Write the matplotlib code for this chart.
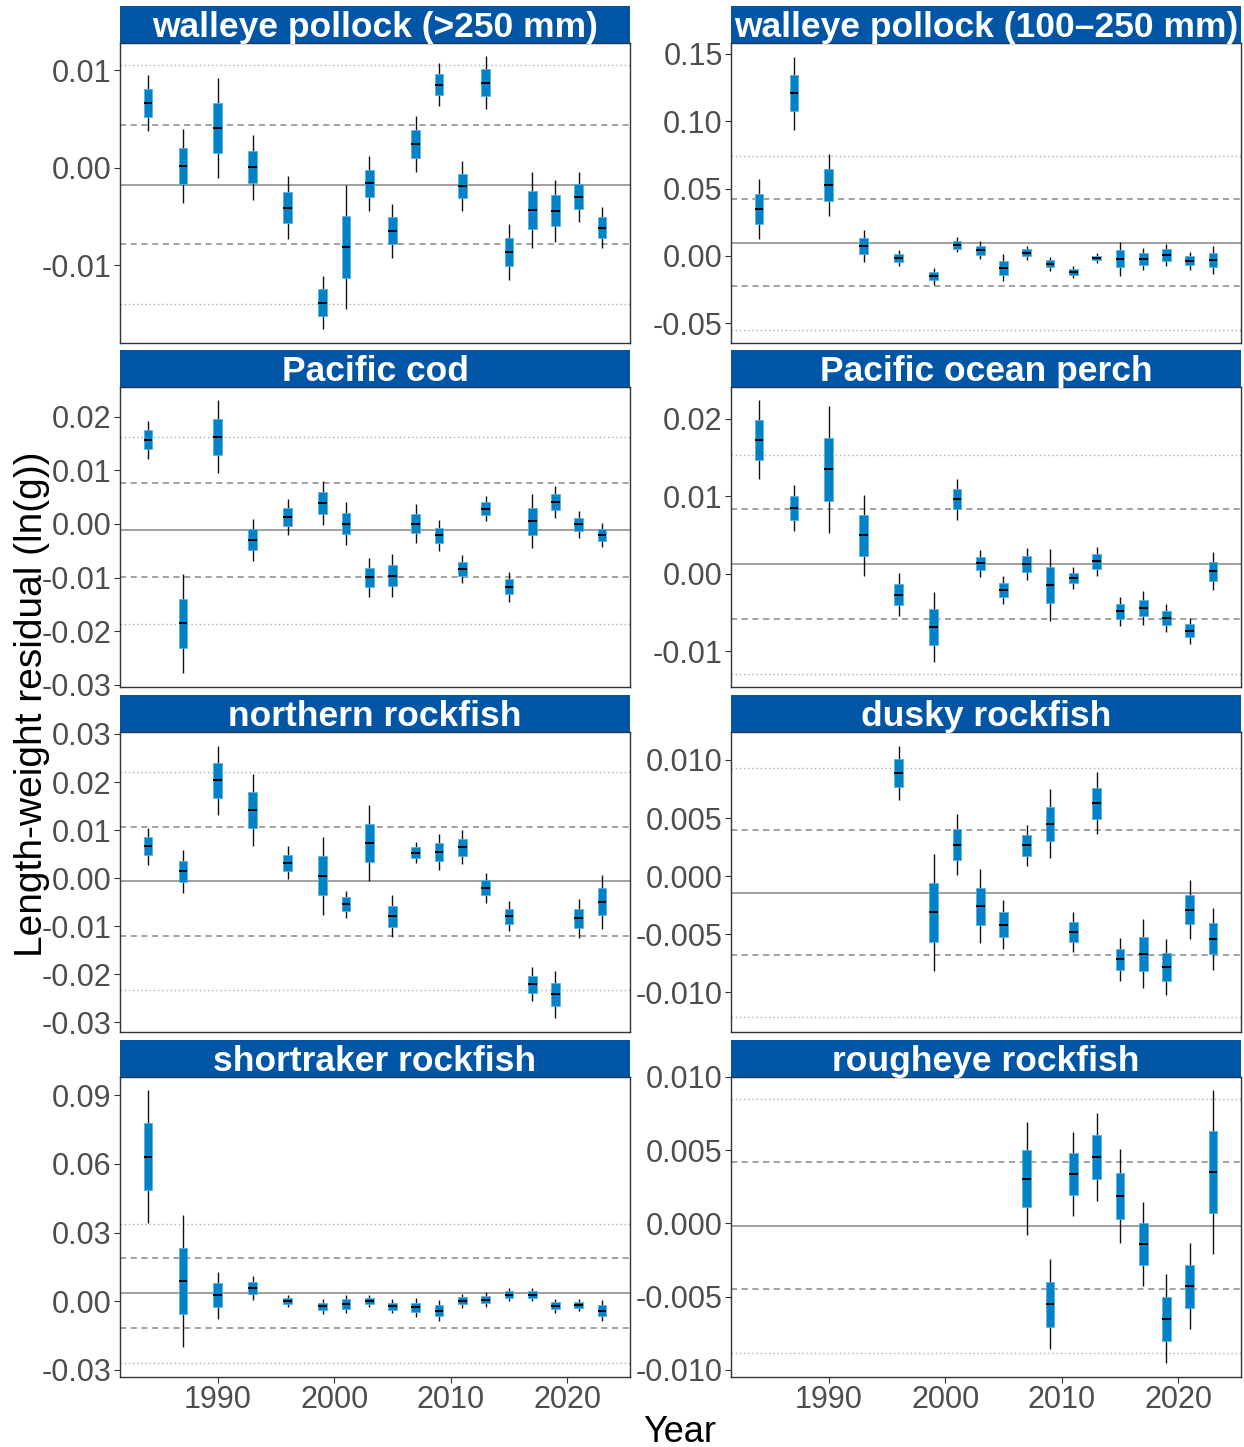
import matplotlib
matplotlib.use('Agg')
import matplotlib.pyplot as plt
import numpy as np

plt.rcParams['font.family'] = ['Liberation Sans', 'DejaVu Sans']

# survey years
years_all = [1984, 1987, 1990, 1993, 1996, 1999, 2001, 2003, 2005,
             2007, 2009, 2011, 2013, 2015, 2017, 2019, 2021, 2023]
years_dusky = years_all[4:]
years_rougheye = years_all[9:]

# medians and interval half-widths (box = +/- 1, whisker = +/- 2)
pollock_big_med = [0.00663, 0.00017, 0.00405, 0.00003, -0.00409, -0.01385, -0.00814, -0.00162, -0.00646,
                   0.00241, 0.00852, -0.00189, 0.00873, -0.00869, -0.00433, -0.00443, -0.00299, -0.00615]
pollock_big_se = [0.00143, 0.00189, 0.00256, 0.00165, 0.00160, 0.00137, 0.00316, 0.00139, 0.00139,
                  0.00143, 0.00110, 0.00127, 0.00137, 0.00144, 0.00194, 0.00160, 0.00127, 0.00105]

pollock_small_med = [0.0347, 0.1208, 0.0527, 0.0074, -0.0015, -0.0151, 0.0082, 0.0042, -0.0087,
                     0.0022, -0.0057, -0.0119, -0.0015, -0.0022, -0.0022, 0.0007, -0.0037, -0.0030]
pollock_small_se = [0.0111, 0.0135, 0.0116, 0.0059, 0.0031, 0.0031, 0.0028, 0.0033, 0.0051,
                    0.0026, 0.0026, 0.0024, 0.0017, 0.0063, 0.0042, 0.0042, 0.0033, 0.0053]

cod_med = [0.01565, -0.01851, 0.01621, -0.00298, 0.00130, 0.00391, 0.00006, -0.00994, -0.00963,
           0.00006, -0.00217, -0.00839, 0.00280, -0.01168, 0.00050, 0.00410, -0.00012, -0.00199]
cod_se = [0.00177, 0.00460, 0.00339, 0.00193, 0.00168, 0.00202, 0.00199, 0.00180, 0.00199,
          0.00180, 0.00149, 0.00127, 0.00118, 0.00140, 0.00252, 0.00152, 0.00130, 0.00112]

pop_med = [0.01728, 0.00849, 0.01349, 0.00496, -0.00267, -0.00685, 0.00961, 0.00134, -0.00207,
           0.00121, -0.00147, -0.00052, 0.00159, -0.00483, -0.00440, -0.00569, -0.00733, 0.00034]
pop_se = [0.00254, 0.00149, 0.00409, 0.00263, 0.00138, 0.00228, 0.00131, 0.00088, 0.00088,
          0.00103, 0.00231, 0.00069, 0.00095, 0.00095, 0.00108, 0.00088, 0.00084, 0.00123]

northern_med = [0.00660, 0.00139, 0.02035, 0.01424, 0.00319, 0.00049, -0.00542, 0.00729, -0.00792,
                0.00528, 0.00549, 0.00639, -0.00201, -0.00792, -0.02208, -0.02417, -0.00833, -0.00493]
northern_se = [0.00188, 0.00219, 0.00358, 0.00375, 0.00170, 0.00403, 0.00142, 0.00399, 0.00219,
               0.00111, 0.00188, 0.00177, 0.00156, 0.00156, 0.00177, 0.00243, 0.00201, 0.00278]

dusky_med = [0.00888, -0.00312, 0.00272, -0.00258, -0.00418, 0.00264, 0.00450,
             -0.00481, 0.00628, -0.00716, -0.00668, -0.00779, -0.00287, -0.00539]
dusky_se = [0.00117, 0.00251, 0.00130, 0.00158, 0.00106, 0.00090, 0.00148,
            0.00085, 0.00133, 0.00093, 0.00148, 0.00120, 0.00125, 0.00133]

shortraker_med = [0.0632, 0.00875, 0.00262, 0.00583, 0.00029, -0.00219, -0.00117, 0.00029, -0.00219,
                  -0.00262, -0.00408, 0.00015, 0.00073, 0.00292, 0.00292, -0.00204, -0.00160, -0.00408]
shortraker_se = [0.0146, 0.0144, 0.00518, 0.00270, 0.00131, 0.00160, 0.00204, 0.00131, 0.00153,
                 0.00204, 0.00226, 0.00153, 0.00168, 0.00146, 0.00139, 0.00153, 0.00131, 0.00226]

rougheye_med = [0.00306, -0.00553, 0.00336, 0.00454, 0.00187, -0.00139, -0.00651, -0.00429, 0.00352]
rougheye_se = [0.00192, 0.00154, 0.00144, 0.00151, 0.00159, 0.00143, 0.00151, 0.00147, 0.00280]

# reference lines: mean and standard deviation per species
ref_mean = [-0.00175, 0.0098, -0.00118, 0.00125, -0.00063, -0.00143, 0.0035, -0.00016]
ref_sd = [0.00613, 0.0323, 0.0087, 0.00707, 0.01131, 0.00536, 0.0152, 0.00434]

panels = [
    ('walleye pollock (>250 mm)', years_all, pollock_big_med, pollock_big_se),
    ('walleye pollock (100\u2013250 mm)', years_all, pollock_small_med, pollock_small_se),
    ('Pacific cod', years_all, cod_med, cod_se),
    ('Pacific ocean perch', years_all, pop_med, pop_se),
    ('northern rockfish', years_all, northern_med, northern_se),
    ('dusky rockfish', years_dusky, dusky_med, dusky_se),
    ('shortraker rockfish', years_all, shortraker_med, shortraker_se),
    ('rougheye rockfish', years_rougheye, rougheye_med, rougheye_se),
]

ylims = [(-0.0180, 0.0128), (-0.0646, 0.158), (-0.0304, 0.0255), (-0.0146, 0.0241),
         (-0.0320, 0.0304), (-0.0134, 0.0124), (-0.0331, 0.0980), (-0.0105, 0.0100)]
yticks = [[-0.01, 0.0, 0.01], [-0.05, 0.0, 0.05, 0.10, 0.15],
          [-0.03, -0.02, -0.01, 0.0, 0.01, 0.02], [-0.01, 0.0, 0.01, 0.02],
          [-0.03, -0.02, -0.01, 0.0, 0.01, 0.02, 0.03], [-0.010, -0.005, 0.0, 0.005, 0.010],
          [-0.03, 0.0, 0.03, 0.06, 0.09], [-0.010, -0.005, 0.0, 0.005, 0.010]]
yfmt = ['%.2f', '%.2f', '%.2f', '%.2f', '%.2f', '%.3f', '%.2f', '%.3f']

W, H = 1244, 1447
fig = plt.figure(figsize=(W / 100, H / 100), dpi=100)
fig.patch.set_facecolor('white')

col_x = [120, 731]
row_top = [43, 387, 732, 1077]
ax_w, ax_h, strip_h = 510, 300, 37

BOX = '#0082C8'
STRIP = '#0055A4'
box_w = 0.75

for i, (title, yrs, med, se) in enumerate(panels):
    r, c = divmod(i, 2)
    x0, top = col_x[c], row_top[r]
    ax = fig.add_axes([x0 / W, 1 - (top + ax_h) / H, ax_w / W, ax_h / H])
    sax = fig.add_axes([x0 / W, 1 - top / H, ax_w / W, strip_h / H])
    sax.set_facecolor(STRIP)
    sax.set_xticks([])
    sax.set_yticks([])
    for s in sax.spines.values():
        s.set_visible(False)
    sax.text(0.5, 0.42, title, ha='center', va='center', color='white',
             fontsize=25.5, fontweight='bold', transform=sax.transAxes, clip_on=False)

    yrs = np.array(yrs, dtype=float)
    med = np.array(med)
    se = np.array(se)

    m, sd = ref_mean[i], ref_sd[i]
    ax.axhline(m, color='#999999', lw=1.3, zorder=1)
    for k in (-1, 1):
        ax.axhline(m + k * sd, color='#888888', lw=1.1, ls=(0, (4, 3)), zorder=1)
        ax.axhline(m + 2 * k * sd, color='#aaaaaa', lw=1.0, ls=(0, (1, 2)), zorder=1)

    ax.vlines(yrs, med - 2 * se, med + 2 * se, color='#111111', lw=1.0, zorder=2)
    ax.bar(yrs, 2 * se, bottom=med - se, width=box_w, color=BOX,
           edgecolor='#5DB0E0', linewidth=0.6, zorder=3)
    ax.hlines(med, yrs - box_w / 2, yrs + box_w / 2, color='black', lw=1.4, zorder=4)

    ax.set_xlim(1981.6, 2025.4)
    ax.set_ylim(*ylims[i])
    ax.set_yticks(yticks[i])
    ax.set_yticklabels([yfmt[i] % (0.0 if abs(v) < 1e-12 else v) for v in yticks[i]])
    ax.set_xticks([1990, 2000, 2010, 2020])
    if r < 3:
        ax.tick_params(axis='x', bottom=False, labelbottom=False)
    ax.tick_params(axis='both', length=4, width=0.8, color='#333333',
                   labelsize=22, labelcolor='#4D4D4D', pad=2)
    for s in ax.spines.values():
        s.set_color('#333333')
        s.set_linewidth(1.0)

fig.text(32 / W, 1 - 704 / H, 'Length-weight residual (ln(g))', rotation=90,
         ha='center', va='center', fontsize=28, color='black')
fig.text(680 / W, 1 - 1432 / H, 'Year', ha='center', va='center',
         fontsize=26, color='black')

fig.savefig('out.png', dpi=100, facecolor='white')
